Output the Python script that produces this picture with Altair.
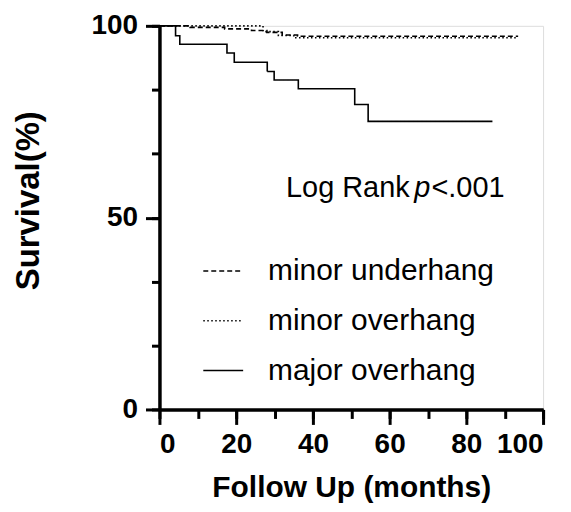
import altair as alt
import pandas as pd

groups = ["minor underhang", "minor overhang", "major overhang"]

under_t = [0, 8, 17, 24, 28, 32, 36, 93.5]
under_s = [100, 99.6, 99.2, 98.8, 98.3, 97.6, 97.3, 97.3]

over_t = [0, 27, 31, 35, 93.5]
over_s = [100, 98.5, 97.5, 96.9, 96.9]

major_t = [0, 4.2, 5.3, 17.6, 19.5, 28.1, 29.9, 36.2, 50.9, 54.4, 86.8]
major_s = [100, 97.4, 95.2, 92.9, 90.5, 88.1, 85.9, 83.6, 79.5, 75.1, 75.1]

x_major = [0, 20, 40, 60, 80, 100]
x_minor = [0, 10, 20, 30, 40, 50, 60, 70, 80, 90, 100]
y_major = [0, 50, 100]
y_minor = [0, 100 / 6, 200 / 6, 50, 400 / 6, 500 / 6, 100]

ann_text = ["Log Rank", "p", "<.001"]
ann_x = [33, 66.4, 70.9]
ann_y = [55.3, 55.3, 55.3]

rows = []
for g, ts, ss in zip(groups, [under_t, over_t, major_t], [under_s, over_s, major_s]):
    for t, s in zip(ts, ss):
        rows.append({"group": g, "t": t, "s": s})
df = pd.DataFrame(rows)
ann = pd.DataFrame({"label": ann_text, "x": ann_x, "y": ann_y})

FONT = "Liberation Sans"
xscale = alt.Scale(domain=[0, 100], nice=False, zero=False)
yscale = alt.Scale(domain=[0, 100], nice=False, zero=False)

axis_common = dict(
    domainColor="black", domainWidth=3, tickColor="black", tickWidth=3,
    grid=False, labelFont=FONT, labelFontWeight="bold", labelFontSize=28,
    labelColor="black", titleFont=FONT, titleFontWeight="bold",
    titleColor="black",
)

lines = alt.Chart(df).mark_line(interpolate="step-after", color="black", strokeWidth=1.6).encode(
    x=alt.X("t:Q", scale=xscale,
            axis=alt.Axis(values=x_major, tickSize=15, labelPadding=6,
                          title="Follow Up (months)", titlePadding=14, orient="bottom",
                          titleFontSize=30, **axis_common)),
    y=alt.Y("s:Q", scale=yscale,
            axis=alt.Axis(values=y_major, tickSize=14, labelPadding=8,
                          title="Survival(%)", titleX=-131, titleY=175,
                          titleAlign="center", titleBaseline="middle", orient="left",
                          titleFontSize=33, **axis_common)),
    strokeDash=alt.StrokeDash(
        "group:N",
        scale=alt.Scale(domain=groups, range=[[5, 3], [1.5, 2.5], [1, 0]]),
        sort=groups,
        legend=alt.Legend(
            title=None, orient="none", legendX=43, legendY=225,
            symbolType="stroke", symbolSize=1600, symbolStrokeWidth=1.5,
            symbolStrokeColor="black", labelFont=FONT, labelFontSize=30,
            labelColor="black", labelOffset=24, rowPadding=14, padding=0,
            labelLimit=0,
        ),
    ),
)

minor_axes = alt.Chart(ann).mark_text(
    font=FONT, fontSize=29, align="left", baseline="alphabetic", color="black"
).encode(
    x=alt.X("x:Q", scale=xscale,
            axis=alt.Axis(values=x_minor, tickSize=9, labels=False, title=None,
                          orient="bottom", **axis_common)),
    y=alt.Y("y:Q", scale=yscale,
            axis=alt.Axis(values=y_minor, tickSize=8, labels=False, title=None,
                          orient="left", **axis_common)),
    text="label:N",
).transform_filter(alt.datum.label != "p")

italic_p = alt.Chart(ann).mark_text(
    font=FONT, fontSize=29, fontStyle="italic", align="left",
    baseline="alphabetic", color="black"
).encode(
    x=alt.X("x:Q", scale=xscale, axis=None),
    y=alt.Y("y:Q", scale=yscale, axis=None),
    text="label:N",
).transform_filter(alt.datum.label == "p")

chart = alt.layer(lines, minor_axes, italic_p).resolve_axis(
    x="independent", y="independent"
).properties(
    width=385, height=385,
    autosize=alt.AutoSizeParams(type="none"),
    padding={"left": 152, "top": 17, "right": 20, "bottom": 100},
).configure_view(stroke=None).configure(background="white")

chart.save("out.html", embed_options={"renderer": "svg", "actions": False})
